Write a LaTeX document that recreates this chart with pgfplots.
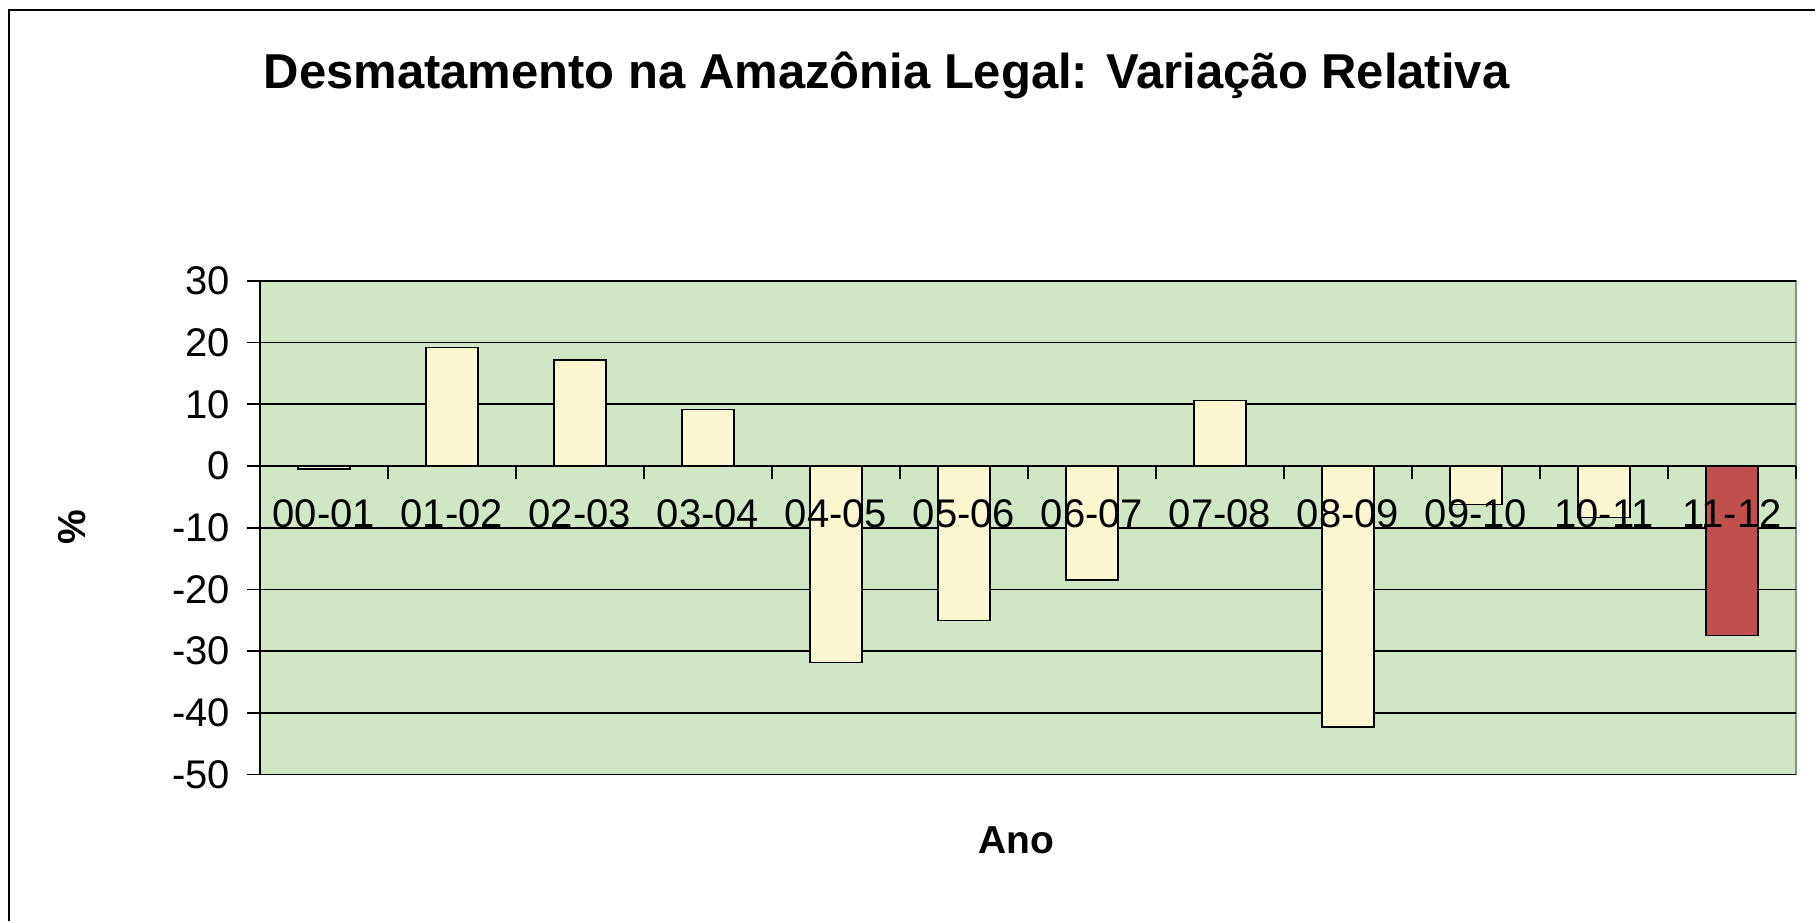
\documentclass[border=0pt]{standalone}
\usepackage{fontspec}
\setmainfont{Liberation Sans}
\usepackage{pgfplots}
\pgfplotsset{compat=1.18}
\definecolor{plotbg}{RGB}{209,230,196}
\definecolor{baryel}{RGB}{250,247,208}
\definecolor{barred}{RGB}{192,80,77}
\pgfplotsset{
  layers/mylayers/.define layer set={
    axis background,axis grid,main,axis ticks,axis lines,axis tick labels,axis descriptions,axis foreground
  }{
    grid style={/pgfplots/on layer=axis grid},
    tick style={/pgfplots/on layer=axis ticks},
    axis line style={/pgfplots/on layer=axis lines},
    label style={/pgfplots/on layer=axis descriptions},
    legend style={/pgfplots/on layer=axis foreground},
    title style={/pgfplots/on layer=axis descriptions},
    colorbar style={/pgfplots/on layer=axis descriptions},
    ticklabel style={/pgfplots/on layer=axis tick labels},
    axis background@ style={/pgfplots/on layer=axis background},
    3d box foreground style={/pgfplots/on layer=axis foreground},
  },
}
\begin{document}
\begin{tikzpicture}
\path (0pt,0pt) rectangle (908pt,461pt);
\draw[line width=1pt] (4.5pt,0pt) -- (4.5pt,456pt) -- (908pt,456pt);
\begin{axis}[
  set layers=mylayers,
  at={(130pt,73.5pt)}, anchor=south west,
  scale only axis, width=768.5pt, height=247pt,
  xmin=-0.5, xmax=11.5, ymin=-50, ymax=30,
  axis y line*=left, axis x line*=middle,
  axis line style={black, line width=0.8pt},
  axis background/.style={fill=plotbg, draw=black!45, line width=0.8pt},
  ytick={-50,-40,...,30},
  ymajorgrids, grid style={black, line width=0.9pt},
  xtick={0,...,11},
  xticklabels={00-01,01-02,02-03,03-04,04-05,05-06,06-07,07-08,08-09,09-10,10-11,11-12},
  minor xtick={0.5,1.5,...,11.5},
  tick align=outside,
  major tick length=6.5pt, minor tick length=6.5pt,
  tick style={black, line width=0.8pt},
  major x tick style={draw=none},
  /pgf/number format/assume math mode=true,
  tick label style={font=\fontsize{20}{24}\selectfont},
  yticklabel style={xshift=-5pt},
  xticklabel style={yshift=-6.8pt},
  ybar,
  title={Desmatamento na Amazônia Legal: Variação Relativa},
  title style={at={(axis description cs:0.408,1.366)}, anchor=base, font=\fontsize{24.5}{29}\selectfont\bfseries},
  xlabel={Ano},
  xlabel style={at={(axis description cs:0.4925,-0.1336)}, anchor=center, font=\fontsize{19.5}{23}\selectfont\bfseries},
  ylabel={\%},
  ylabel style={at={(axis description cs:-0.1223,0.502)}, anchor=center, font=\fontsize{19.5}{23}\selectfont\bfseries},
]
\addplot[ybar, bar width=26pt, bar shift=0pt, draw=black, line width=0.7pt, fill=baryel]
  coordinates {(0,-0.5) (1,19.2) (2,17.2) (3,9.2) (4,-31.8) (5,-25.0) (6,-18.5) (7,10.6) (8,-42.3) (9,-6.2) (10,-8.3)};
\addplot[ybar, bar width=26pt, bar shift=0pt, draw=black, line width=0.7pt, fill=barred]
  coordinates {(11,-27.5)};
\end{axis}
\end{tikzpicture}
\end{document}
